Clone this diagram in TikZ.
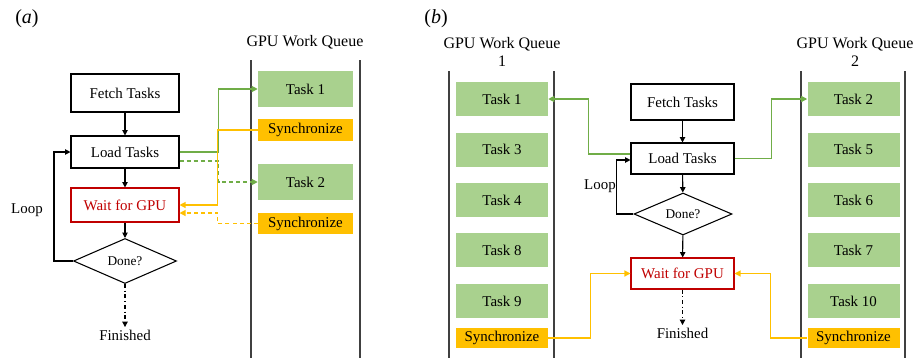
\documentclass[tikz,border=0pt]{standalone}
\usepackage{fontspec}
\setmainfont{Liberation Serif}
\usetikzlibrary{shapes.geometric,arrows.meta,calc}
\definecolor{taskfill}{HTML}{A9D18E}
\definecolor{syncfill}{HTML}{FFC000}
\definecolor{linegreen}{HTML}{70AD47}
\definecolor{lineyellow}{HTML}{FFC000}
\definecolor{waitred}{HTML}{C00000}
\definecolor{queuegray}{HTML}{404040}
\begin{document}
\begin{tikzpicture}[x=0.75pt,y=-0.75pt,
  txt/.style={font=\fontsize{11.2}{13}\selectfont},
  box/.style={txt, draw, line width=0.8pt, inner sep=0, minimum width=81pt},
  waitbox/.style={box, draw=waitred, text=waitred},
  decision/.style={draw, diamond, line width=0.8pt, inner sep=0, aspect=2.3, font=\fontsize{10}{12}\selectfont},
  task/.style={txt, fill=taskfill, inner sep=0, minimum height=25.5pt},
  sync/.style={txt, fill=syncfill, inner sep=0, minimum height=15.5pt},
  qtitle/.style={align=center, font=\fontsize{12}{13.5}\selectfont},
  qline/.style={draw=queuegray, line width=0.9pt},
  flow/.style={line width=0.8pt, -{Triangle[length=4pt,width=4pt]}},
  green/.style={draw=linegreen, line width=0.9pt, -{Triangle[length=4.5pt,width=4.5pt]}},
  yellow/.style={draw=lineyellow, line width=0.9pt, -{Triangle[length=4.5pt,width=4.5pt]}},
  dashline/.style={dash pattern=on 3pt off 2.3pt},
  finish/.style={line width=0.8pt, dash dot, -{Triangle[length=4pt,width=4pt]}}]
\useasboundingbox (0,0) rectangle (917,358);

% (a) one work queue
\node[font=\fontsize{15}{17}\selectfont] (labela) at (27,19) {(\textit{a})};
\node[qtitle] (qa) at (305,42) {GPU Work Queue};
\draw[qline] (251,60) -- (251,358);
\draw[qline] (360,60) -- (360,358);

\node[box, minimum height=28.5pt] (fetch) at (125,93) {Fetch Tasks};
\node[box, minimum height=24pt] (load) at (125,152) {Load Tasks};
\node[waitbox, minimum height=25.5pt] (wait) at (125,205) {Wait for GPU};
\node[decision, minimum width=77.25pt, minimum height=33.75pt] (done) at (125,261) {Done?};
\node[txt] (fin) at (125,335) {Finished};
\node[txt] (loop) at (27,210) {Loop};

\node[task, minimum width=71.25pt, minimum height=27pt] (t1) at (305.5,89) {Task 1};
\node[sync, minimum width=71.25pt, minimum height=16.5pt] (s1) at (305.5,130) {Synchronize};
\node[task, minimum width=71.25pt, minimum height=27pt] (t2) at (305.5,182) {Task 2};
\node[sync, minimum width=71.25pt, minimum height=16pt] (s2) at (305.5,223.5) {Synchronize};

\draw[flow] (fetch) -- (load);
\draw[flow] (load) -- (wait);
\draw[flow] (wait) -- (done);
\draw[finish] (done.south) -- ($(fin.north)+(0,2)$);
\draw[flow] (done.west) -- ++(-19,0) |- (load.west);

\draw[green] (load.east) -- ++(39,0) |- (t1.west);
\draw[green, dashline] ($(load.east)+(0,9)$) -- ++(39,0) |- (t2.west);
\draw[yellow] (s1.west) -- ++(-40,0) |- (wait.east);
\draw[yellow, dashline] (s2.west) -- ++(-40,0) |- ($(wait.east)+(0,8)$);

% (b) two work queues
\node[font=\fontsize{15}{17}\selectfont] (labelb) at (436,19) {(\textit{b})};
\node[qtitle] (qb1) at (502,52) {GPU Work Queue\\1};
\node[qtitle] (qb2) at (855,52) {GPU Work Queue\\2};
\draw[qline] (449,71) -- (449,358);
\draw[qline] (554,71) -- (554,358);
\draw[qline] (801,71) -- (801,358);
\draw[qline] (905,71) -- (905,358);

\node[box, minimum width=77.25pt, minimum height=27pt] (fetchb) at (682.5,102) {Fetch Tasks};
\node[box, minimum width=77.25pt, minimum height=23.25pt] (loadb) at (682.5,158.5) {Load Tasks};
\node[decision, minimum width=73.5pt, minimum height=31.5pt] (doneb) at (683,214) {Done?};
\node[waitbox, minimum width=77.25pt, minimum height=23.25pt] (waitb) at (682.5,273.5) {Wait for GPU};
\node[txt] (finb) at (682.5,333) {Finished};
\node[txt] (loopb) at (600,186) {Loop};

\foreach \name/\lbl/\ypos in {b1/Task 1/99, b3/Task 3/149.5, b4/Task 4/200, b8/Task 8/250, b9/Task 9/301}
  \node[task, minimum width=69pt] (\name) at (502,\ypos) {\lbl};
\foreach \name/\lbl/\ypos in {b2/Task 2/99, b5/Task 5/149.5, b6/Task 6/200, b7/Task 7/250, b10/Task 10/301}
  \node[task, minimum width=69pt] (\name) at (853.5,\ypos) {\lbl};
\node[sync, minimum width=69pt] (bs1) at (502,338) {Synchronize};
\node[sync, minimum width=69pt] (bs2) at (853.5,338) {Synchronize};

\draw[flow] (fetchb) -- (loadb);
\draw[flow] (loadb) -- (doneb);
\draw[flow] (doneb) -- (waitb);
\draw[finish] (waitb.south) -- ($(finb.north)+(0,2)$);
\draw[flow] (doneb.west) -- ++(-17,0) |- ($(loadb.west)+(0,1.5)$);

\draw[green] ($(loadb.west)+(0,-4.5)$) -- ++(-42,0) |- (b1.east);
\draw[green] (loadb.east) -- ++(37,0) |- (b2.west);
\draw[yellow] (bs1.east) -- ++(42,0) |- (waitb.west);
\draw[yellow] (bs2.west) -- ++(-37,0) |- (waitb.east);
\end{tikzpicture}
\end{document}
